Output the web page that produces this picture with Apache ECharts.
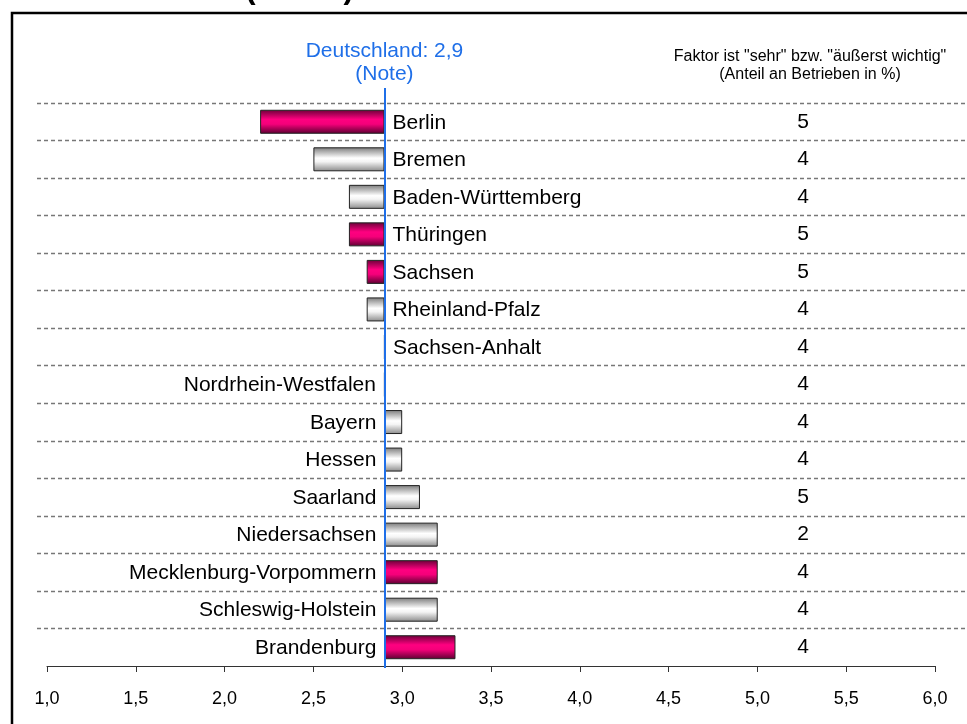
<!DOCTYPE html>
<html>
<head>
<meta charset="utf-8">
<script src="https://cdn.jsdelivr.net/npm/echarts@6/dist/echarts.min.js"></script>
<style>
  html, body { margin: 0; padding: 0; background: #fff; }
  #main { width: 967px; height: 724px; }
</style>
</head>
<body>
<div id="main"></div>
<script>
// Bundesländer, Note (Mittelwert) und Anteil "sehr"/"äußerst wichtig"
var laender = ["Berlin", "Bremen", "Baden-Württemberg", "Thüringen", "Sachsen", "Rheinland-Pfalz",
  "Sachsen-Anhalt", "Nordrhein-Westfalen", "Bayern", "Hessen", "Saarland", "Niedersachsen",
  "Mecklenburg-Vorpommern", "Schleswig-Holstein", "Brandenburg"];
var noten = [2.2, 2.5, 2.7, 2.7, 2.8, 2.8, 2.9, 2.9, 3.0, 3.0, 3.1, 3.2, 3.2, 3.2, 3.3];
var anteil = [5, 4, 4, 5, 5, 4, 4, 4, 4, 4, 5, 2, 4, 4, 4];
var ostLaender = ["Berlin", "Thüringen", "Sachsen", "Mecklenburg-Vorpommern", "Brandenburg"];
var deutschland = 2.9;

var FONT = "Arial, 'Liberation Sans', sans-serif";
var BLUE = "#1f6fe8";

var magenta = new echarts.graphic.LinearGradient(0, 0, 0, 1, [
  { offset: 0, color: "#6a0038" },
  { offset: 0.4, color: "#ff0080" },
  { offset: 0.6, color: "#f5007a" },
  { offset: 1, color: "#5a0030" }
]);
var grau = new echarts.graphic.LinearGradient(0, 0, 0, 1, [
  { offset: 0, color: "#7a7a7a" },
  { offset: 0.45, color: "#ffffff" },
  { offset: 0.6, color: "#f4f4f4" },
  { offset: 1, color: "#8a8a8a" }
]);

// Balken laufen von 2,9 aus zum Wert (stack auf Basis)
var basis = laender.map(function () { return deutschland; });
var delta = noten.map(function (v, i) {
  var rechts = i < 7; // bis Sachsen-Anhalt steht der Name rechts der Linie
  return {
    value: Math.round((v - deutschland) * 100) / 100,
    itemStyle: { color: ostLaender.indexOf(laender[i]) >= 0 ? magenta : grau },
    label: { position: rechts ? "right" : "left" }
  };
});

var chart = echarts.init(document.getElementById("main"));
chart.setOption({
  animation: false,
  textStyle: { fontFamily: FONT },
  title: [{
    text: 'Faktor ist "sehr" bzw. "äußerst wichtig"\n(Anteil an Betrieben in %)',
    left: 805, top: 43, textAlign: "center",
    textStyle: { fontSize: 16, fontWeight: "normal", color: "#000", lineHeight: 18, fontFamily: FONT }
  }],
  graphic: [
    { type: "rect", shape: { x: 12, y: 13, width: 1000, height: 800 },
      style: { fill: null, stroke: "#000", lineWidth: 2.5 }, silent: true },
    { type: "text", x: 30, y: 5,
      style: { text: "Bundesländer (Noten)", font: "bold 31px " + FONT, fill: "#000", verticalAlign: "bottom" } }
  ],
  grid: [
    { left: 47, right: 32, top: 103, height: 563 },
    { left: 37, right: 0, top: 103, height: 563 },
    { left: 47, right: 32, top: 88, bottom: 56 }
  ],
  xAxis: [
    { gridIndex: 0, type: "value", min: 1, max: 6, interval: 0.5,
      axisLine: { show: true, lineStyle: { color: "#333", width: 1 } },
      axisTick: { show: true, length: 6, lineStyle: { color: "#333" } },
      splitLine: { show: false },
      axisLabel: { fontSize: 18, color: "#000", margin: 24,
        formatter: function (v) { return v.toFixed(1).replace(".", ","); } } },
    { gridIndex: 1, type: "value", min: 0, max: 1, show: false },
    { gridIndex: 2, type: "value", min: 1, max: 6, show: false }
  ],
  yAxis: [
    { gridIndex: 0, type: "category", data: laender, inverse: true,
      axisLine: { show: false }, axisTick: { show: false }, axisLabel: { show: false } },
    { gridIndex: 0, type: "category", data: anteil.map(String), inverse: true, position: "right",
      axisLine: { show: false }, axisTick: { show: false },
      axisLabel: { inside: true, margin: 132, align: "center", fontSize: 21, color: "#000",
        padding: [0, 0, 4, 0] } },
    { gridIndex: 1, type: "value", min: 0, max: 15, interval: 1,
      axisLine: { show: false }, axisTick: { show: false }, axisLabel: { show: false },
      splitLine: { show: true, showMinLine: false, showMaxLine: true,
        lineStyle: { color: "#777", type: [4, 3], width: 1.3 } } },
    { gridIndex: 2, type: "value", min: 0, max: 1, show: false }
  ],
  series: [
    { type: "bar", xAxisIndex: 0, yAxisIndex: 0, stack: "n", stackStrategy: "all",
      data: basis, barWidth: 24, silent: true,
      itemStyle: { color: "transparent" } },
    { type: "bar", xAxisIndex: 0, yAxisIndex: 0, stack: "n", stackStrategy: "all",
      data: delta, barWidth: 24,
      itemStyle: { borderColor: "#222", borderWidth: 1 },
      label: { show: true, distance: 8, offset: [0, 1], fontSize: 21, color: "#000",
        formatter: function (p) { return p.name; } } },
    { type: "scatter", xAxisIndex: 2, yAxisIndex: 3, data: [[deutschland, 0.5]], symbolSize: 0,
      silent: true,
      markLine: {
        silent: true, symbol: "none",
        lineStyle: { color: BLUE, width: 2, type: "solid" },
        label: { show: true, position: "end", distance: 2, color: BLUE, fontSize: 21, lineHeight: 23,
          formatter: "Deutschland: 2,9\n(Note)" },
        data: [{ xAxis: deutschland }]
      } }
  ]
});
</script>
</body>
</html>
